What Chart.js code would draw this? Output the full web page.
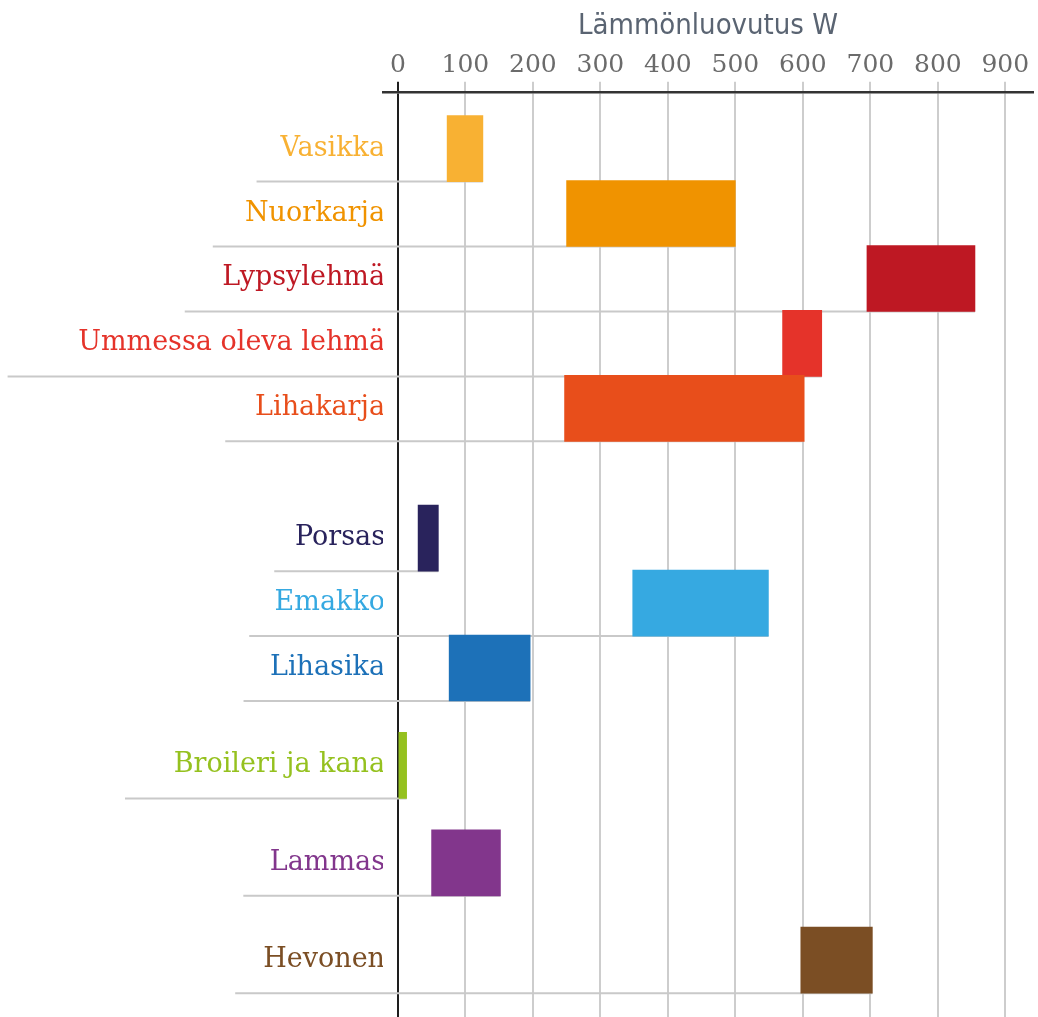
<!DOCTYPE html>
<html>
<head>
<meta charset="utf-8">
<script src="https://cdn.jsdelivr.net/npm/chart.js@4.4.1/dist/chart.umd.min.js"></script>
<style>
  html, body { margin: 0; padding: 0; background: #fff; }
  #wrap { width: 1038px; height: 1017px; position: relative; }
</style>
</head>
<body>
<div id="wrap"><canvas id="heatChart"></canvas></div>
<script>
const categories = [
  "Vasikka",
  "Nuorkarja",
  "Lypsylehmä",
  "Ummessa oleva lehmä",
  "Lihakarja",
  "Porsas",
  "Emakko",
  "Lihasika",
  "Broileri ja kana",
  "Lammas",
  "Hevonen",
];
// heat output range per animal, W
const heatLow = [73, 250, 695, 570, 247, 30, 348, 76, 0, 50, 597];
const heatHigh = [126, 500, 855, 628, 602, 60, 549, 196, 13, 152, 703];
const xTickValues = [0, 100, 200, 300, 400, 500, 600, 700, 800, 900];
const axisTitle = "Lämmönluovutus W";

const colors = [
  "#f8b133", "#f09300", "#be1823", "#e5332a", "#e84e1b",
  "#29235c", "#36a9e1", "#1d71b8", "#95c11f", "#82368c", "#7b4e24",
];

// layout: rows sit on quarter-row slots so the groups get their gaps
const rowSlots = [3, 7, 11, 15, 19, 27, 31, 35, 41, 47, 53];
const slotCount = 57;

const slotLabels = new Array(slotCount).fill("");
const slotData = new Array(slotCount).fill(null);
const slotColors = new Array(slotCount).fill("#000");
rowSlots.forEach((s, i) => {
  slotLabels[s] = categories[i];
  slotData[s] = [heatLow[i], heatHigh[i]];
  slotColors[s] = colors[i];
});

const labelFont = '27px "DejaVu Serif"';

// grey line under each label running out to the end of its bar
const underlines = {
  id: "underlines",
  beforeDatasetsDraw(chart) {
    const ctx = chart.ctx;
    const meta = chart.getDatasetMeta(0);
    const labelRight = chart.scales.y.right + 2;
    ctx.save();
    ctx.font = labelFont;
    ctx.strokeStyle = "#c9c9c9";
    ctx.lineWidth = 2;
    rowSlots.forEach((s, i) => {
      const bar = meta.data[s];
      const p = bar.getProps(["x", "y", "base", "height"], true);
      const bottom = p.y + p.height / 2;
      const w = ctx.measureText(categories[i]).width;
      ctx.beginPath();
      ctx.moveTo(labelRight - w * 1.23, bottom);
      ctx.lineTo(Math.max(p.x, p.base), bottom);
      ctx.stroke();
    });
    ctx.restore();
  },
};

const config = {
  type: "bar",
  data: {
    labels: slotLabels,
    datasets: [
      {
        data: slotData,
        backgroundColor: slotColors,
        borderWidth: 0,
        borderSkipped: false,
        barThickness: 66,
      },
    ],
  },
  options: {
    indexAxis: "y",
    responsive: true,
    maintainAspectRatio: false,
    animation: false,
    layout: { padding: { top: 0, right: 5, bottom: 0, left: 0 } },
    plugins: {
      legend: { display: false },
      tooltip: { enabled: false },
    },
    scales: {
      x: {
        position: "top",
        min: -22,
        max: 941,
        afterBuildTicks: (scale) => {
          scale.ticks = xTickValues.map((v) => ({ value: v }));
        },
        title: {
          display: true,
          text: axisTitle,
          color: "#5a6472",
          font: { family: '"Liberation Sans Narrow", "DejaVu Sans Condensed", sans-serif', size: 29 },
          padding: { top: 9, bottom: 6 },
        },
        ticks: {
          color: "#6b6b6b",
          font: { family: '"DejaVu Serif"', size: 25 },
          padding: 1,
          maxRotation: 0,
          autoSkip: false,
        },
        grid: {
          color: (c) => (c.tick && c.tick.value === 0 ? "#1e1e1e" : "#cdcdcd"),
          lineWidth: 2,
          tickLength: 10,
        },
        border: { display: true, color: "#333", width: 2.5 },
      },
      y: {
        afterFit: (scale) => {
          scale.width = 383;
          scale.paddingTop = 0;
          scale.paddingBottom = 0;
        },
        ticks: {
          autoSkip: false,
          color: (c) => slotColors[c.index],
          font: { family: '"DejaVu Serif"', size: 27 },
          padding: -2,
        },
        grid: { display: false, drawTicks: false },
        border: { display: false },
      },
    },
  },
  plugins: [underlines],
};

const heatChart = new Chart(document.getElementById("heatChart"), config);
</script>
</body>
</html>
